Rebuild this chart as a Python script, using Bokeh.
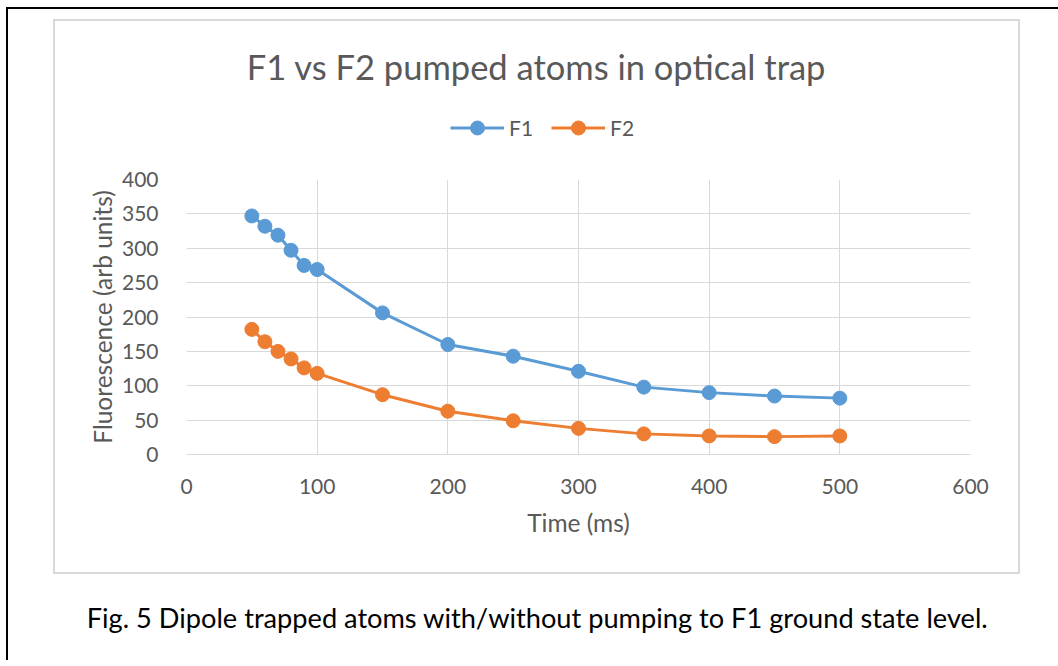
import numpy as np
from bokeh.plotting import figure
from bokeh.models import (Range1d, Label, Legend, LegendItem, FixedTicker,
                          ColumnDataSource)
from bokeh.layouts import column
from bokeh.embed import file_html
from bokeh.resources import INLINE

# ---- data ----
time_ms = [50, 60, 70, 80, 90, 100, 150, 200, 250, 300, 350, 400, 450, 500]
f1 = [347, 332, 319, 297, 275, 269, 206, 160, 143, 121, 98, 90, 85, 82]
f2 = [182, 164, 150, 139, 126, 118, 87, 63, 49, 38, 30, 27, 26, 27]
x_ticks = [0, 100, 200, 300, 400, 500, 600]
y_ticks = [0, 50, 100, 150, 200, 250, 300, 350, 400]
series_names = ["F1", "F2"]
title_text = "F1 vs F2 pumped atoms in optical trap"
caption_text = "Fig. 5 Dipole trapped atoms with/without pumping to F1 ground state level."

FONT = "Lato"
GRAY = "#595959"
GRID = "#d9d9d9"
BLUE = "#5B9BD5"
ORANGE = "#ED7D31"

CW = 963          # inner width of the chart box
HH = 129          # header height (title + legend)
PH = 551 - HH     # plot height
FL, FR = 186 - 55, 55 + CW - 970
FT = 179 - 21 - HH
FB = 572 - 454
FX0 = 186         # window x of plot frame left (header frame is aligned to it)


def blank(fig):
    fig.axis.visible = False
    fig.grid.visible = False
    fig.outline_line_color = None
    fig.background_fill_color = "white"
    fig.border_fill_color = "white"


# ---- header: title + legend ----
hdr = figure(width=CW, height=HH, output_backend="svg", toolbar_location=None,
             x_range=Range1d(0, 1), y_range=Range1d(0, 1),
             min_border=0, min_border_left=0, min_border_right=0,
             min_border_top=0, min_border_bottom=0)
blank(hdr)
hdr.add_layout(Label(x=536 - FX0, y=HH - 45, x_units="screen", y_units="screen",
                     text=title_text, text_font=FONT, text_font_size="34.5px",
                     text_color=GRAY, text_align="center", text_baseline="middle"))
empty = ColumnDataSource(dict(x=np.array([np.nan]), y=np.array([np.nan])))
h1l = hdr.line("x", "y", source=empty, line_color=BLUE, line_width=3)
h1c = hdr.scatter("x", "y", source=empty, size=14, fill_color=BLUE, line_color=BLUE)
h2l = hdr.line("x", "y", source=empty, line_color=ORANGE, line_width=3)
h2c = hdr.scatter("x", "y", source=empty, size=14, fill_color=ORANGE, line_color=ORANGE)
legend = Legend(items=[LegendItem(label=series_names[0], renderers=[h1l, h1c]),
                       LegendItem(label=series_names[1], renderers=[h2l, h2c])],
                orientation="horizontal", location=(450 - FX0, 5),
                label_text_font=FONT, label_text_font_size="21px",
                label_text_color=GRAY, glyph_width=54, glyph_height=35,
                border_line_color=None, background_fill_alpha=0,
                spacing=18, padding=0, margin=0, label_standoff=5)
hdr.add_layout(legend, "center")

# ---- main plot ----
p = figure(width=CW, height=PH, output_backend="svg", toolbar_location=None,
           x_range=Range1d(0, 600), y_range=Range1d(0, 400),
           min_border_left=FL, min_border_right=FR,
           min_border_top=FT, min_border_bottom=FB)
p.outline_line_color = None
p.background_fill_color = "white"
p.border_fill_color = "white"

src = ColumnDataSource(dict(t=time_ms, f1=f1, f2=f2))
p.line("t", "f1", source=src, line_color=BLUE, line_width=3)
p.scatter("t", "f1", source=src, size=14, fill_color=BLUE, line_color=BLUE)
p.line("t", "f2", source=src, line_color=ORANGE, line_width=3)
p.scatter("t", "f2", source=src, size=14, fill_color=ORANGE, line_color=ORANGE)

for ax in (p.xaxis[0], p.yaxis[0]):
    ax.major_tick_line_color = None
    ax.minor_tick_line_color = None
    ax.major_label_text_font = FONT
    ax.major_label_text_font_size = "21px"
    ax.major_label_text_color = GRAY
    ax.axis_label_text_font = FONT
    ax.axis_label_text_font_size = "24.5px"
    ax.axis_label_text_font_style = "normal"
    ax.axis_label_text_color = GRAY

p.xaxis.ticker = FixedTicker(ticks=x_ticks)
p.yaxis.ticker = FixedTicker(ticks=y_ticks)
p.xaxis.axis_line_color = GRID
p.yaxis.axis_line_color = None
p.xaxis.major_label_standoff = 18
p.yaxis.major_label_standoff = 22
p.xaxis.axis_label = "Time (ms)"
p.yaxis.axis_label = "Fluorescence (arb units)"
p.xaxis.axis_label_standoff = 11
p.yaxis.axis_label_standoff = 2

p.xgrid.ticker = FixedTicker(ticks=x_ticks)
p.ygrid.ticker = FixedTicker(ticks=y_ticks)
p.grid.grid_line_color = GRID
p.grid.grid_line_width = 1

box = column(hdr, p, spacing=0, styles={"border": "2px solid " + GRID})
box.margin = (10, 0, 0, 45)

# ---- caption ----
cap = figure(width=1050, height=86, output_backend="svg", toolbar_location=None,
             x_range=Range1d(0, 1), y_range=Range1d(0, 1),
             min_border=0, min_border_left=0, min_border_right=0,
             min_border_top=0, min_border_bottom=0)
blank(cap)
cap.add_layout(Label(x=0.5, y=0.5, x_offset=4, text=caption_text, text_font=FONT,
                     text_font_size="27.2px", text_color="black",
                     text_align="center", text_baseline="middle"))

root = column(box, cap, spacing=0,
              styles={"border-top": "2px solid black",
                      "border-left": "2px solid black"})
root.margin = (7, 0, 0, 6)

open("out.html", "w").write(file_html(root, INLINE))
